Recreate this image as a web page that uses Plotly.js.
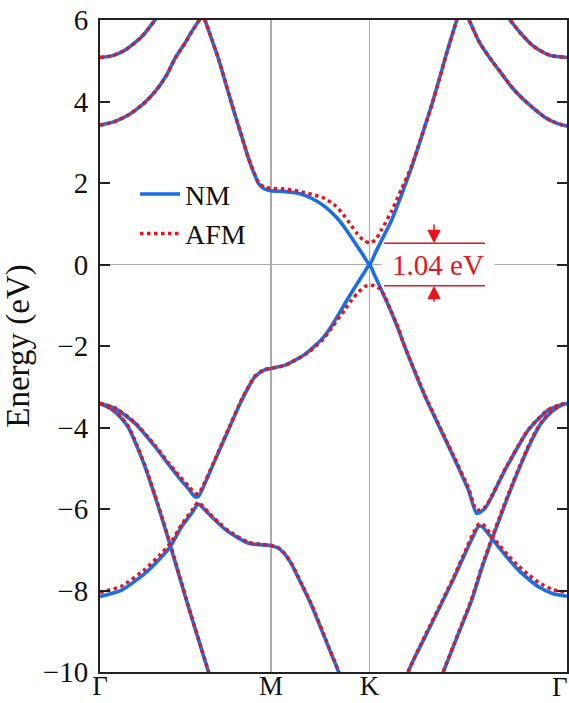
<!DOCTYPE html>
<html>
<head>
<meta charset="utf-8">
<script src="https://cdn.plot.ly/plotly-3.0.1.min.js"></script>
<style>html,body{margin:0;padding:0;background:#fff;}#chart{width:569px;height:703px;}</style>
</head>
<body>
<div id="chart"></div>
<script>
// High-symmetry path: Γ (0) – M (1) – K (1.577) – Γ (2.732)
const kLabels = ['Γ', 'M', 'K', 'Γ'];
const kTicks = [0, 1, 1.577, 2.732];

// Band A (upper, near Γ on the left)
const k_A1 = [0, 0.07, 0.146, 0.244, 0.322, 0.40];
const nm_A1 = [5.08, 5.12, 5.26, 5.59, 6.0, 6.45];
const afm_A1 = [5.08, 5.12, 5.26, 5.59, 6.0, 6.45];
// Band A (upper, near Γ on the right)
const k_A2 = [2.33, 2.399, 2.46, 2.526, 2.60, 2.643, 2.732];
const nm_A2 = [6.4, 6.0, 5.68, 5.39, 5.19, 5.12, 5.08];
const afm_A2 = [6.4, 6.0, 5.68, 5.39, 5.19, 5.12, 5.08];

// Band B (conduction band through the Dirac point)
const k_B = [0, 0.08, 0.166, 0.25, 0.322, 0.39, 0.439, 0.50, 0.536, 0.605, 0.614, 0.65, 0.692, 0.74, 0.79, 0.83, 0.868, 0.90, 0.927, 0.96, 1.0, 1.08, 1.16, 1.24, 1.316, 1.38, 1.434, 1.50, 1.54, 1.577, 1.61, 1.648, 1.707, 1.765, 1.824, 1.88, 1.941, 1.985, 2.029, 2.087, 2.115, 2.159, 2.22, 2.292, 2.35, 2.409, 2.47, 2.526, 2.60, 2.643, 2.70, 2.732];
const nm_B = [3.42, 3.50, 3.67, 3.93, 4.24, 4.65, 5.06, 5.45, 5.71, 6.12, 6.0, 5.57, 5.06, 4.38, 3.67, 3.13, 2.61, 2.25, 1.99, 1.86, 1.81, 1.79, 1.75, 1.62, 1.42, 1.17, 0.89, 0.48, 0.23, 0.0, 0.28, 0.60, 1.10, 1.72, 2.40, 3.12, 3.92, 4.55, 5.20, 6.0, 6.37, 6.0, 5.45, 5.0, 4.68, 4.35, 4.08, 3.87, 3.62, 3.52, 3.43, 3.40];
const afm_B = [3.42, 3.50, 3.67, 3.93, 4.24, 4.65, 5.06, 5.45, 5.71, 6.12, 6.0, 5.57, 5.06, 4.38, 3.67, 3.13, 2.61, 2.27, 2.02, 1.90, 1.87, 1.85, 1.80, 1.72, 1.62, 1.43, 1.17, 0.78, 0.60, 0.53, 0.60, 0.86, 1.32, 1.86, 2.43, 3.13, 3.92, 4.55, 5.20, 6.0, 6.37, 6.0, 5.45, 5.0, 4.68, 4.35, 4.08, 3.87, 3.62, 3.52, 3.43, 3.40];

// Band C (valence band through the Dirac point)
const k_C = [0, 0.088, 0.205, 0.322, 0.40, 0.458, 0.52, 0.556, 0.575, 0.595, 0.673, 0.751, 0.829, 0.907, 0.96, 1.0, 1.083, 1.2, 1.30, 1.356, 1.434, 1.473, 1.512, 1.55, 1.577, 1.605, 1.639, 1.668, 1.687, 1.746, 1.775, 1.902, 2.058, 2.155, 2.204, 2.253, 2.37, 2.506, 2.623, 2.70, 2.732];
const nm_C = [-3.41, -3.53, -3.90, -4.47, -4.90, -5.21, -5.52, -5.70, -5.69, -5.55, -4.80, -4.06, -3.33, -2.75, -2.59, -2.55, -2.47, -2.20, -1.82, -1.50, -0.95, -0.68, -0.42, -0.17, 0.0, -0.25, -0.56, -0.83, -1.0, -1.6, -1.93, -3.24, -4.63, -5.53, -6.11, -5.98, -5.04, -4.06, -3.57, -3.44, -3.41];
const afm_C = [-3.41, -3.52, -3.88, -4.44, -4.86, -5.16, -5.45, -5.62, -5.62, -5.50, -4.78, -4.04, -3.31, -2.74, -2.58, -2.55, -2.47, -2.21, -1.86, -1.55, -1.10, -0.87, -0.68, -0.54, -0.51, -0.52, -0.60, -0.80, -0.99, -1.57, -1.93, -3.22, -4.60, -5.48, -6.03, -5.95, -5.02, -4.05, -3.56, -3.43, -3.40];

// Band D (K–Γ, lower, ending at about -8.1 eV at Γ)
const k_D = [1.78, 1.804, 1.90, 1.999, 2.07, 2.136, 2.18, 2.214, 2.235, 2.28, 2.331, 2.39, 2.448, 2.51, 2.565, 2.65, 2.732];
const nm_D = [-10.5, -9.99, -9.15, -8.31, -7.70, -7.09, -6.70, -6.43, -6.43, -6.65, -6.93, -7.23, -7.50, -7.73, -7.91, -8.08, -8.14];
const afm_D = [-10.5, -9.99, -9.12, -8.28, -7.66, -7.04, -6.62, -6.38, -6.36, -6.58, -6.86, -7.15, -7.40, -7.62, -7.80, -7.98, -8.05];

// Band E (K–Γ, steep, ending at about -3.4 eV at Γ)
const k_E = [1.98, 2.009, 2.09, 2.175, 2.23, 2.292, 2.35, 2.409, 2.47, 2.526, 2.58, 2.643, 2.70, 2.732];
const nm_E = [-10.3, -9.99, -9.13, -8.23, -7.50, -6.76, -6.10, -5.45, -4.83, -4.31, -3.90, -3.61, -3.45, -3.41];
const afm_E = [-10.3, -9.98, -9.11, -8.20, -7.46, -6.72, -6.06, -5.42, -4.80, -4.28, -3.88, -3.59, -3.44, -3.40];

// Band F (Γ–M–K, lower)
const k_F = [0, 0.127, 0.263, 0.35, 0.410, 0.478, 0.54, 0.575, 0.634, 0.70, 0.751, 0.868, 0.95, 1.0, 1.04, 1.08, 1.121, 1.18, 1.239, 1.336, 1.395, 1.42];
const nm_F = [-8.15, -7.99, -7.58, -7.22, -6.93, -6.43, -6.08, -5.88, -6.11, -6.38, -6.56, -6.84, -6.88, -6.90, -6.95, -7.10, -7.36, -7.86, -8.38, -9.38, -9.99, -10.3];
const afm_F = [-8.05, -7.89, -7.48, -7.13, -6.85, -6.38, -6.02, -5.84, -6.08, -6.35, -6.53, -6.82, -6.87, -6.89, -6.94, -7.09, -7.34, -7.84, -8.36, -9.36, -9.98, -10.3];

// Band H (Γ–M, steep)
const k_H = [0, 0.068, 0.12, 0.166, 0.215, 0.263, 0.341, 0.410, 0.517, 0.634, 0.66];
const nm_H = [-3.41, -3.55, -3.75, -4.0, -4.45, -4.96, -5.94, -6.88, -8.40, -9.99, -10.35];
const afm_H = [-3.40, -3.54, -3.73, -3.97, -4.42, -4.93, -5.91, -6.85, -8.38, -9.98, -10.35];

// Gap annotation
const gapLabel = '1.04 eV';
const gapTop = 0.52, gapBottom = -0.52;

const blue = '#1a6ee8';
const red = '#e8141c';
const serif = "'Liberation Serif', 'Times New Roman', serif";

const bandsNM = [[k_A1, nm_A1], [k_A2, nm_A2], [k_B, nm_B], [k_C, nm_C], [k_D, nm_D], [k_E, nm_E], [k_F, nm_F], [k_H, nm_H]];
const bandsAFM = [[k_A1, afm_A1], [k_A2, afm_A2], [k_B, afm_B], [k_C, afm_C], [k_D, afm_D], [k_E, afm_E], [k_F, afm_F], [k_H, afm_H]];

const traces = [];
bandsNM.forEach((b, i) => traces.push({
  x: b[0], y: b[1], mode: 'lines', type: 'scatter', name: 'NM',
  legendgroup: 'NM', showlegend: i === 0, hoverinfo: 'skip',
  line: {color: blue, width: 3.6, shape: 'spline', smoothing: 0.6}
}));
bandsAFM.forEach((b, i) => traces.push({
  x: b[0], y: b[1], mode: 'lines', type: 'scatter', name: 'AFM',
  legendgroup: 'AFM', showlegend: i === 0, hoverinfo: 'skip',
  line: {color: red, width: 3.5, dash: 'dot', shape: 'spline', smoothing: 0.6}
}));

const tickFont = {family: serif, size: 27, color: '#111'};

const layout = {
  width: 569, height: 703,
  margin: {l: 100, r: 2, t: 20, b: 31},
  paper_bgcolor: '#fff', plot_bgcolor: '#fff',
  showlegend: true,
  legend: {x: 0.075, y: 0.771, xanchor: 'left', yanchor: 'top', bgcolor: 'rgba(0,0,0,0)',
           tracegroupgap: 0, itemwidth: 40,
           font: {family: serif, size: 28, color: '#111'}},
  xaxis: {
    range: [0, 2.732], tickvals: kTicks.slice(0, 3), ticktext: kLabels.slice(0, 3),
    showgrid: true, gridcolor: '#aaaaaa', gridwidth: 1.5,
    showline: true, linecolor: '#222', linewidth: 2, mirror: true,
    ticks: '', zeroline: false, ticklabelstandoff: -11,
    tickfont: tickFont
  },
  yaxis: {
    range: [-10, 6], tick0: 0, dtick: 2,
    ticks: 'inside', ticklen: 10, tickwidth: 2, tickcolor: '#222',
    showline: true, linecolor: '#222', linewidth: 2, mirror: 'ticks',
    showgrid: false, zeroline: true, zerolinecolor: '#aaaaaa', zerolinewidth: 1.5,
    ticklabelstandoff: 4,
    tickfont: {family: serif, size: 29, color: '#111'},
    title: {text: 'Energy (eV)', font: {family: serif, size: 33, color: '#111'}, standoff: 3}
  },
  shapes: [
    {type: 'line', xref: 'x', yref: 'y', x0: 1.662, x1: 2.253, y0: gapTop, y1: gapTop, line: {color: red, width: 1.5}},
    {type: 'line', xref: 'x', yref: 'y', x0: 1.662, x1: 2.253, y0: gapBottom, y1: gapBottom, line: {color: red, width: 1.5}}
  ],
  annotations: [
    {x: kTicks[3], y: 0, xref: 'x', yref: 'paper', text: kLabels[3], showarrow: false,
     xanchor: 'right', yanchor: 'middle', xshift: 2, yshift: -15, borderpad: 0, font: tickFont},
    {x: 1.975, y: 0, xref: 'x', yref: 'y', text: gapLabel, showarrow: false,
     font: {family: serif, size: 29, color: red}, bgcolor: '#fff', width: 112, borderpad: 0},
    {x: 1.954, y: gapTop, ax: 1.954, ay: 1.02, xref: 'x', yref: 'y', axref: 'x', ayref: 'y',
     text: '', showarrow: true, arrowhead: 2, arrowsize: 1.8, arrowwidth: 1.5, arrowcolor: red},
    {x: 1.954, y: gapBottom, ax: 1.954, ay: -0.95, xref: 'x', yref: 'y', axref: 'x', ayref: 'y',
     text: '', showarrow: true, arrowhead: 2, arrowsize: 1.8, arrowwidth: 1.5, arrowcolor: red}
  ]
};

Plotly.newPlot('chart', traces, layout, {staticPlot: true, displayModeBar: false});
</script>
</body>
</html>
